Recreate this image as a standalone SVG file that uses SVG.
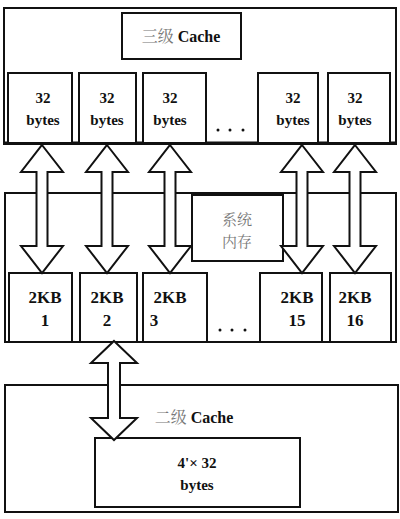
<svg xmlns="http://www.w3.org/2000/svg" width="400" height="519" viewBox="0 0 400 519">
<style>
.box{fill:#fff;stroke:#111;stroke-width:2}
.cell{fill:#fff;stroke:#111;stroke-width:2}
.arr{fill:#fff;stroke:#111;stroke-width:2;stroke-linejoin:miter}
text{font-family:'Liberation Serif','Times New Roman','DejaVu Serif','Noto Sans CJK SC',serif;font-weight:bold;font-size:15px;fill:#111;text-anchor:middle}
.cn{font-family:'Noto Serif CJK SC','Noto Sans CJK SC',serif;font-weight:normal;fill:#777}
.big{font-size:16px}
.kb{font-size:17px}
.dot{fill:#111}
</style>
<rect width="400" height="519" fill="#fff"/>
<g id="l3">
<rect class="box" x="4" y="8" width="392" height="136"/>
<line x1="4" y1="143" x2="396" y2="143" stroke="#111" stroke-width="3"/>
<rect class="box" x="122" y="13" width="119" height="46"/>
<text class="big" x="181" y="42"><tspan class="cn">三级</tspan> Cache</text>
</g>
<g id="l3cells">
<rect class="cell" x="8" y="73" width="64" height="70"/>
<rect class="cell" x="79" y="73" width="57" height="70"/>
<rect class="cell" x="143" y="73" width="63" height="70"/>
<rect class="cell" x="258" y="73" width="60" height="70"/>
<rect class="cell" x="328" y="73" width="62" height="70"/>
<text x="43" y="103">32</text><text x="43" y="125">bytes</text>
<text x="107" y="103">32</text><text x="107" y="125">bytes</text>
<text x="170" y="103">32</text><text x="170" y="125">bytes</text>
<text x="293" y="103">32</text><text x="293" y="125">bytes</text>
<text x="355" y="103">32</text><text x="355" y="125">bytes</text>
<circle class="dot" cx="218" cy="130" r="1.5"/><circle class="dot" cx="230" cy="130" r="1.5"/><circle class="dot" cx="243" cy="130" r="1.5"/>
</g>
<g id="mem">
<rect class="box" x="5" y="193" width="391" height="149"/>
<rect class="box" x="192" y="195" width="91" height="66"/>
<text class="cn" x="237" y="225" style="font-size:15px">系统</text>
<text class="cn" x="237" y="247" style="font-size:15px">内存</text>
</g>
<g id="memcells">
<rect class="cell" x="9" y="273" width="63" height="69"/>
<rect class="cell" x="80" y="273" width="57" height="69"/>
<rect class="cell" x="143" y="273" width="64" height="69"/>
<rect class="cell" x="260" y="273" width="62" height="69"/>
<rect class="cell" x="330" y="273" width="61" height="69"/>
<text class="kb" x="45" y="303">2KB</text><text class="kb" x="45" y="326">1</text>
<text class="kb" x="107" y="303">2KB</text><text class="kb" x="107" y="326">2</text>
<text class="kb" x="170" y="303">2KB</text><text class="kb" x="154" y="326">3</text>
<text class="kb" x="297" y="303">2KB</text><text class="kb" x="297" y="326">15</text>
<text class="kb" x="355" y="303">2KB</text><text class="kb" x="355" y="326">16</text>
<circle class="dot" cx="220" cy="330" r="1.5"/><circle class="dot" cx="232" cy="330" r="1.5"/><circle class="dot" cx="245" cy="330" r="1.5"/>
</g>
<g id="l2">
<rect class="box" x="5" y="385" width="393" height="127"/>
<text class="big" x="194" y="423"><tspan class="cn">二级</tspan> Cache</text>
<rect class="box" x="95" y="438" width="205" height="69"/>
<text x="197" y="468">4'× 32</text>
<text x="197" y="490">bytes</text>
</g>
<g id="connectors">
<path class="arr" d="M42,145 L63,172 L47.5,172 L47.5,246 L63,246 L42,273 L21,246 L36.5,246 L36.5,172 L21,172 Z"/>
<path class="arr" d="M107,145 L128,172 L112.5,172 L112.5,246 L128,246 L107,273 L86,246 L101.5,246 L101.5,172 L86,172 Z"/>
<path class="arr" d="M170,145 L191,172 L175.5,172 L175.5,246 L191,246 L170,273 L149,246 L164.5,246 L164.5,172 L149,172 Z"/>
<path class="arr" d="M302,145 L323,172 L307.5,172 L307.5,246 L323,246 L302,273 L281,246 L296.5,246 L296.5,172 L281,172 Z"/>
<path class="arr" d="M355,145 L376,172 L360.5,172 L360.5,246 L376,246 L355,273 L334,246 L349.5,246 L349.5,172 L334,172 Z"/>
<path class="arr" d="M114,341 L137,363 L120,363 L120,418 L137,418 L114,440 L91,418 L108,418 L108,363 L91,363 Z"/>
</g>
</svg>
